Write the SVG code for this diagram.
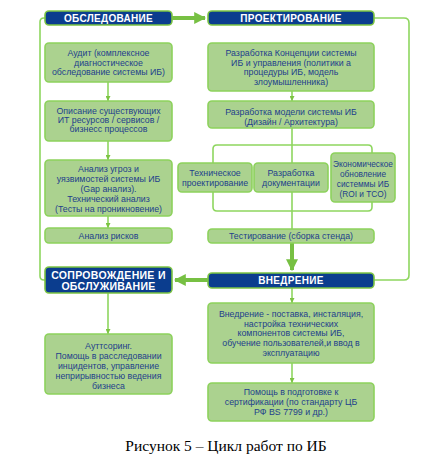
<svg xmlns="http://www.w3.org/2000/svg" width="446" height="460" viewBox="0 0 446 460">
<defs>
<style>
.hdr{fill:#0b3d8e;stroke:#7cc443;stroke-width:1.6}
.box{fill:#abd28f;stroke:#8dd25c;stroke-width:1.6}
.ht{font-family:"Liberation Sans",Arial,sans-serif;font-weight:bold;font-size:10px;fill:#fff;text-anchor:middle;letter-spacing:0.3px}
.bt{font-family:"Liberation Sans",Arial,sans-serif;font-size:8.8px;fill:#1e3f8c;text-anchor:middle}
.thin{fill:none;stroke:#8ed65f;stroke-width:1.6}
.thick{fill:none;stroke:#77c043;stroke-width:4}
.cap{font-family:"Liberation Serif","Times New Roman",serif;font-size:15.5px;fill:#000;text-anchor:middle}
</style>
<marker id="sa" viewBox="0 0 6 6" refX="6" refY="3" markerWidth="5" markerHeight="5" markerUnits="userSpaceOnUse" orient="auto"><path d="M0,0 L6,3 L0,6 z" fill="#7cc443"/></marker>
<marker id="ba" viewBox="0 0 10 10" refX="9" refY="5" markerWidth="3" markerHeight="3" orient="auto"><path d="M0,0 L10,5 L0,10 z" fill="#77c043"/></marker>
</defs>
<rect width="446" height="460" fill="#fff"/>
<g id="connectors">
<path class="thin" d="M45,280 H44 Q40,280 40,276 V22 Q40,18 44,18 H45"/>
<path class="thin" d="M374,18 H404 Q409,18 409,23 V275 Q409,280 404,280 H374"/>
<path class="thick" d="M172,18 H205" marker-end="url(#ba)"/>
<path class="thick" d="M208,280 H175" marker-end="url(#ba)"/>
<path class="thick" d="M292,243 V270" marker-end="url(#ba)"/>
<path class="thin" d="M108,82 V101" marker-end="url(#sa)"/>
<path class="thin" d="M108,141 V160" marker-end="url(#sa)"/>
<path class="thin" d="M108,216 V228" marker-end="url(#sa)"/>
<path class="thin" d="M108,293 V334" marker-end="url(#sa)"/>
<path class="thin" d="M292,91 V101" marker-end="url(#sa)"/>
<path class="thin" d="M292,128 V145"/>
<path class="thin" d="M217,145 H368 Q372,145 372,149 V207 Q372,211 368,211 H217 Q213,211 213,207 V149 Q213,145 217,145 Z"/>
<path class="thin" d="M292,145 V229"/>
<path class="thin" d="M292,288 V303" marker-end="url(#sa)"/>
<path class="thin" d="M292,363 V383" marker-end="url(#sa)"/>
</g>
<g id="h-obsl"><rect class="hdr" x="45" y="11" width="127" height="14" rx="4"/><text class="ht" x="108.5" y="21.6">ОБСЛЕДОВАНИЕ</text></g>
<g id="h-proekt"><rect class="hdr" x="208" y="11" width="166" height="14" rx="4"/><text class="ht" x="291" y="21.6">ПРОЕКТИРОВАНИЕ</text></g>
<g id="h-soprov"><rect class="hdr" x="45" y="267" width="127" height="26" rx="4"/><text class="ht" style="font-size:10.5px" x="108.5" y="278.5">СОПРОВОЖДЕНИЕ И</text><text class="ht" style="font-size:10.5px" x="108.5" y="290">ОБСЛУЖИВАНИЕ</text></g>
<g id="h-vnedr"><rect class="hdr" x="208" y="273" width="166" height="15" rx="4"/><text class="ht" x="291" y="284">ВНЕДРЕНИЕ</text></g>
<g id="b-audit"><rect class="box" x="45" y="43" width="127" height="39" rx="4"/><text class="bt" x="108.5" y="56">Аудит (комплексное</text><text class="bt" x="108.5" y="65.5">диагностическое</text><text class="bt" x="108.5" y="75">обследование системы ИБ)</text></g>
<g id="b-opis"><rect class="box" x="45" y="101" width="127" height="40" rx="4"/><text class="bt" x="108.5" y="113.5">Описание существующих</text><text class="bt" x="108.5" y="122.5">ИТ ресурсов / сервисов /</text><text class="bt" x="108.5" y="131.5">бизнесс процессов</text></g>
<g id="b-ugroz"><rect class="box" x="45" y="160" width="127" height="56" rx="4"/><text class="bt" x="108.5" y="172">Анализ угроз и</text><text class="bt" x="108.5" y="182">уязвимостей системы ИБ</text><text class="bt" x="108.5" y="192">(Gap анализ).</text><text class="bt" x="108.5" y="202">Технический анализ</text><text class="bt" x="108.5" y="212">(Тесты на проникновение)</text></g>
<g id="b-riski"><rect class="box" x="45" y="228" width="127" height="15" rx="4"/><text class="bt" x="108.5" y="239">Анализ рисков</text></g>
<g id="b-autsor"><rect class="box" x="45" y="334" width="127" height="60" rx="4"/><text class="bt" x="108.5" y="349">Ауттсоринг.</text><text class="bt" x="108.5" y="359">Помощь в расследовании</text><text class="bt" x="108.5" y="369">инцидентов, управление</text><text class="bt" x="108.5" y="379">неприрывностью ведения</text><text class="bt" x="108.5" y="389">бизнеса</text></g>
<g id="b-konc"><rect class="box" x="208" y="43" width="166" height="48" rx="4"/><text class="bt" x="291" y="56">Разработка Концепции системы</text><text class="bt" x="291" y="65.5">ИБ и управления (политики а</text><text class="bt" x="291" y="75">процедуры ИБ, модель</text><text class="bt" x="291" y="85">злоумышленника)</text></g>
<g id="b-model"><rect class="box" x="208" y="101" width="166" height="27" rx="4"/><text class="bt" x="291" y="115">Разработка модели системы ИБ</text><text class="bt" x="291" y="125">(Дизайн / Архитектура)</text></g>
<g id="b-tech"><rect class="box" x="178" y="163" width="74" height="29" rx="4"/><text class="bt" x="215" y="176">Техническое</text><text class="bt" x="215" y="186">проектирование</text></g>
<g id="b-doc"><rect class="box" x="254" y="163" width="74" height="29" rx="4"/><text class="bt" x="291" y="176">Разработка</text><text class="bt" x="291" y="186">документации</text></g>
<g id="b-econ"><rect class="box" x="331" y="153" width="64" height="49" rx="4"/><text class="bt" style="font-size:8.3px" x="363" y="167">Экономическое</text><text class="bt" style="font-size:8.3px" x="363" y="177">обновление</text><text class="bt" style="font-size:8.3px" x="363" y="187">системмы ИБ</text><text class="bt" style="font-size:8.3px" x="363" y="196.5">(ROI и TCO)</text></g>
<g id="b-test"><rect class="box" x="208" y="229" width="166" height="14" rx="4"/><text class="bt" x="291" y="239">Тестирование (сборка стенда)</text></g>
<g id="b-vnedr"><rect class="box" x="208" y="303" width="166" height="60" rx="4"/><text class="bt" x="291" y="317">Внедрение - поставка, инсталяция,</text><text class="bt" x="291" y="326.5">настройка технических</text><text class="bt" x="291" y="336">компонентов системы ИБ,</text><text class="bt" x="291" y="346">обучение пользователей,и ввод в</text><text class="bt" x="291" y="356">эксплуатацию</text></g>
<g id="b-pomosh"><rect class="box" x="208" y="383" width="166" height="38" rx="4"/><text class="bt" x="291" y="395">Помощь в подготовке к</text><text class="bt" x="291" y="405">сертификации (по стандарту ЦБ</text><text class="bt" x="291" y="415">РФ BS 7799 и др.)</text></g>
<text class="cap" x="226" y="451">Рисунок 5 – Цикл работ по ИБ</text>
</svg>
